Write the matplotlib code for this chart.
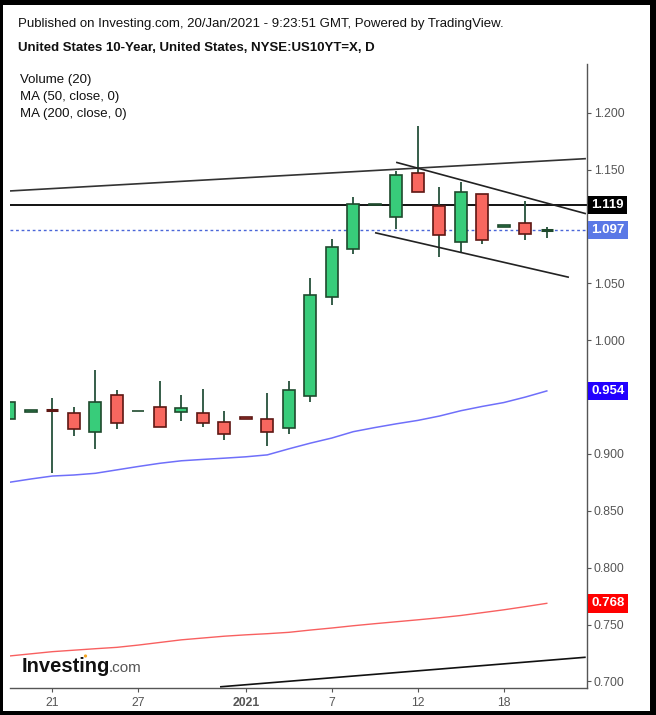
import matplotlib
matplotlib.use("Agg")
import matplotlib.pyplot as plt
from matplotlib.patches import Rectangle, Ellipse
import numpy as np

plt.rcParams['font.family'] = ['Liberation Sans', 'DejaVu Sans']

W, H = 656, 715

# daily candles, 0 = first visible bar (Dec 17) ... 25 = Jan 20
opens = [0.931, 0.9366, 0.9385, 0.9358, 0.9191, 0.9516, 0.9375, 0.9410, 0.9366, 0.9358,
         0.9279, 0.9323, 0.9305, 0.9226, 0.9507, 1.0377, 1.0799, 1.1190, 1.1081, 1.1467,
         1.1177, 1.0861, 1.1283, 1.0993, 1.1028, 1.0972]
closes = [0.9454, 0.9384, 0.9383, 0.9217, 0.9454, 0.9270, 0.9382, 0.9234, 0.9401, 0.9270,
          0.9173, 0.9305, 0.9191, 0.9560, 1.0395, 1.0819, 1.1195, 1.1200, 1.1450, 1.1300,
          1.0922, 1.1300, 1.0878, 1.1010, 1.0931, 1.0972]
highs = [0.9454, 0.9384, 0.9492, 0.9413, 0.9738, 0.9562, 0.9382, 0.9641, 0.9518, 0.9571,
         0.9378, 0.9323, 0.9536, 0.9641, 1.0545, 1.0890, 1.1259, 1.1200, 1.1490, 1.1883,
         1.1344, 1.1393, 1.1283, 1.1010, 1.1224, 1.0995]
lows = [0.9314, 0.9366, 0.8836, 0.9161, 0.9044, 0.9222, 0.9375, 0.9234, 0.9293, 0.9240,
        0.9123, 0.9305, 0.9073, 0.9173, 0.9460, 1.0310, 1.0758, 1.1190, 1.0980, 1.1300,
        1.0729, 1.0764, 1.0849, 1.0993, 1.0884, 1.0901]

ma50 = [0.8751, 0.8780, 0.8806, 0.8815, 0.8830, 0.8860, 0.8890, 0.8918, 0.8940, 0.8952,
        0.8963, 0.8975, 0.8992, 0.9045, 0.9095, 0.9140, 0.9196, 0.9232, 0.9265, 0.9295,
        0.9333, 0.9380, 0.9418, 0.9452, 0.9500, 0.9554]
ma200 = [0.7224, 0.7243, 0.7262, 0.7275, 0.7288, 0.7300, 0.7320, 0.7343, 0.7366, 0.7382,
         0.7398, 0.7410, 0.7420, 0.7432, 0.7452, 0.7470, 0.7490, 0.7508, 0.7525, 0.7542,
         0.7560, 0.7580, 0.7605, 0.7630, 0.7658, 0.7687]

xtick_pos = [2, 6, 11, 15, 19, 23]
xtick_labels = ['21', '27', '2021', '7', '12', '18']
yticks = [0.70, 0.75, 0.80, 0.85, 0.90, 0.95, 1.00, 1.05, 1.10, 1.15, 1.20]

# drawn trend lines: (x0, y0, x1, y1) in bar index / price
channel_top = (0.03, 1.1312, 26.82, 1.1596)
wedge_top = (17.99, 1.1564, 26.82, 1.1112)
wedge_bottom = (17.01, 1.0945, 26.03, 1.0553)
support = (9.80, 0.6953, 26.81, 0.7213)
resistance_level = 1.119
last_price = 1.097

fig = plt.figure(figsize=(W / 100, H / 100), dpi=100)
fig.patch.set_facecolor('black')
fig.patches.append(Rectangle((3 / W, 4 / H), 647 / W, 706 / H, transform=fig.transFigure,
                             facecolor='white', edgecolor='none', zorder=-5))

ax = fig.add_axes([10 / W, (H - 688.3) / H, 577 / W, (688.3 - 64) / H])
ax.set_facecolor('white')

green, green_edge = '#38cc7a', '#1f4a2d'
red, red_edge = '#f8675f', '#5e1713'
wick = '#25503a'
bw = 0.56

ax.axhline(resistance_level, color='black', lw=1.3, zorder=2)
ax.axhline(last_price, color='#4a66d8', lw=1.0, ls=(0, (2, 2)), zorder=2)

for i, (o, c, h, l) in enumerate(zip(opens, closes, highs, lows)):
    up = c >= o
    fc, ec = (green, green_edge) if up else (red, red_edge)
    lo, hi = min(o, c), max(o, c)
    ax.vlines(i, l, h, color=wick, lw=1.3, zorder=3)
    if hi - lo < 0.0004:
        ax.hlines((o + c) / 2, i - bw / 2, i + bw / 2, color=ec, lw=2.2, zorder=4)
    else:
        ax.add_patch(Rectangle((i - bw / 2, lo), bw, hi - lo, facecolor=fc,
                               edgecolor=ec, lw=1.2, zorder=4))

x = np.arange(len(ma50))
ax.plot(x, ma50, color='#6f6ffa', lw=1.1, zorder=2)
ax.plot(x, ma200, color='#f86060', lw=1.0, zorder=2)

for seg, col in [(channel_top, '#333333'), (wedge_top, '#222222'),
                 (wedge_bottom, '#222222'), (support, '#111111')]:
    ax.plot([seg[0], seg[2]], [seg[1], seg[3]], color=col, lw=1.2, zorder=5,
            solid_capstyle='butt')

ax.set_xlim(0.03, 26.87)
ax.set_ylim(0.694, 1.2428)

for s in ['left', 'top']:
    ax.spines[s].set_visible(False)
for s in ['right', 'bottom']:
    ax.spines[s].set_color('#555555')
    ax.spines[s].set_linewidth(1.0)

ax.yaxis.tick_right()
ax.set_yticks(yticks)
# 0.950 and 1.100 sit under the price tags, so their labels are left blank
ax.set_yticklabels(['' if v in (0.95, 1.10) else f'{v:.3f}' for v in yticks])
ax.tick_params(axis='y', direction='out', length=3, width=0.8, colors='#555555',
               labelsize=8.8, pad=2, labelcolor='#555555')
ax.set_xticks(xtick_pos)
ax.set_xticklabels(xtick_labels)
ax.tick_params(axis='x', direction='out', length=3, width=0.8, colors='#555555',
               labelsize=8.8, pad=3, labelcolor='#555555')
for lbl in ax.get_xticklabels():
    if lbl.get_text() == '2021':
        lbl.set_fontweight('bold')

# price tags on the right axis
tags = [(resistance_level, '1.119', 'black'), (last_price, '1.097', '#5a78e6'),
        (ma50[-1], '0.954', '#2200ff'), (ma200[-1], '0.768', '#ff0000')]
for val, txt, col in tags:
    ax.annotate(txt, xy=(1.0, val), xycoords=('axes fraction', 'data'),
                xytext=(3, 0), textcoords='offset points', ha='left', va='center',
                color='white', fontsize=9.5, fontweight='bold', zorder=10,
                annotation_clip=False,
                bbox=dict(boxstyle='square,pad=0.25', facecolor=col, edgecolor='none'))

def fxy(px, py):
    return px / W, 1 - py / H

fig.text(*fxy(18, 24), 'Published on Investing.com, 20/Jan/2021 - 9:23:51 GMT, Powered by TradingView.',
         fontsize=9.5, color='#111111', va='center')
fig.text(*fxy(18, 48), 'United States 10-Year, United States, NYSE:US10YT=X, D',
         fontsize=9.5, fontweight='bold', color='#111111', va='center')
for yy, txt in [(80, 'Volume (20)'), (97, 'MA (50, close, 0)'), (114, 'MA (200, close, 0)')]:
    fig.text(*fxy(20.5, yy), txt, fontsize=9.5, color='#111111', va='center')

fig.text(*fxy(22, 666), 'Investing', fontsize=14.5, fontweight='bold', color='#111111',
         va='center')
fig.text(*fxy(109, 668), '.com', fontsize=11, color='#555555', va='center')
fig.patches.append(Ellipse(fxy(85.5, 656), 3.2 / W, 3.2 / H, transform=fig.transFigure,
                           facecolor='#f5a623', edgecolor='none', zorder=5))

fig.savefig('out.png', dpi=100, facecolor=fig.get_facecolor())
